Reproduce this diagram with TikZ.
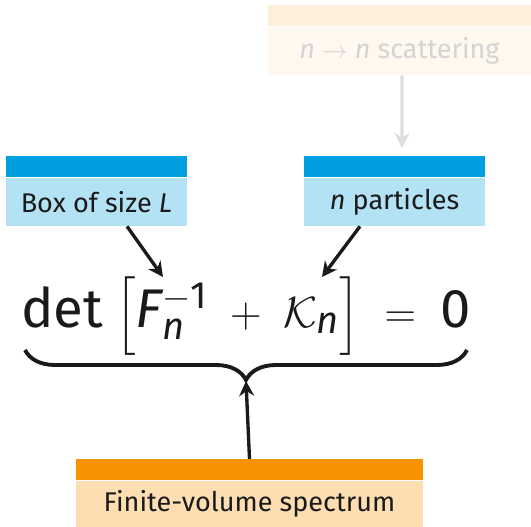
\documentclass[tikz,border=0pt]{standalone}
\usepackage{amsmath}
\usepackage{fontspec}
\setmainfont{Fira Sans}
\usetikzlibrary{arrows.meta,positioning,decorations.pathreplacing}
\definecolor{ink}{HTML}{1A1A1A}
\definecolor{skyhead}{HTML}{00A0E0}
\definecolor{skybody}{HTML}{B3E2F4}
\definecolor{amberhead}{HTML}{F79200}
\definecolor{amberbody}{HTML}{FDDEB2}
\definecolor{palehead}{HTML}{FDEFDA}
\definecolor{palebody}{HTML}{FEF8EE}
\definecolor{paletext}{HTML}{D4D4D4}

\begin{document}
\begin{tikzpicture}[font=\fontsize{15.4}{18}\selectfont,
    blockbody/.style={inner sep=0pt,minimum height=0.96cm,align=center,text=ink},
    blockhead/.style={inner sep=0pt,minimum height=0.42cm},
    eqn/.style={font=\fontsize{31}{36}\selectfont,text=ink,inner sep=0pt},
    arr/.style={-{Stealth[length=3mm,width=3mm]},ink,line width=1.9pt}]
  \useasboundingbox (0,0) rectangle (10.62,-10.54);
  % faded input block
  \node[blockbody,minimum width=5.26cm,fill=palebody,text=paletext] (scat) at (7.99,-1.02)
    {\textit{n} $\rightarrow$ \textit{n} scattering};
  \node[blockhead,minimum width=5.26cm,fill=palehead,above=0pt of scat] (scathead) {};
  % inputs
  \node[blockbody,minimum width=3.62cm,fill=skybody] (box) at (1.93,-4.04) {Box of size \textit{L}};
  \node[blockhead,minimum width=3.62cm,fill=skyhead,above=0pt of box] (boxhead) {};
  \node[blockbody,minimum width=3.62cm,fill=skybody] (part) at (7.89,-4.04) {\textit{n} particles};
  \node[blockhead,minimum width=3.62cm,fill=skyhead,above=0pt of part] (parthead) {};
  % quantization condition
  \node[eqn,anchor=base] (eq) at (4.92,-6.54)
    {$\mathrm{det}\;\Big[\mathit{F}_{\mathit{n}}^{-\mathrm{1}}\;+\;\mathcal{K}_{\mathit{n}}\Big]\;=\;\mathrm{0}$};
  \coordinate (tipF) at (3.26,-5.54);
  \coordinate (tipK) at (6.44,-5.54);
  \coordinate (tipgray) at (8.04,-2.96);
  \coordinate (braceR) at (9.34,-7.00);
  \coordinate (braceL) at (0.50,-7.00);
  \coordinate (bracetip) at (4.92,-7.62);
  % output block
  \node[blockbody,minimum width=6.94cm,minimum height=0.92cm,fill=amberbody] (spec) at (4.99,-10.08)
    {Finite-volume spectrum};
  \node[blockhead,minimum width=6.94cm,fill=amberhead,above=0pt of spec] (spechead) {};
  % connectors
  \draw[arr,draw=paletext!80] ([xshift=0.05cm]scat.south) -- (tipgray);
  \draw[arr] ([xshift=0.61cm]box.south) -- (tipF);
  \draw[arr] ([xshift=-0.69cm]part.south) -- (tipK);
  \draw[ink,line width=2.2pt,decorate,decoration={brace,amplitude=0.6cm}] (braceR) -- (braceL);
  \draw[arr] (spechead.north) -- (bracetip);
\end{tikzpicture}
\end{document}
